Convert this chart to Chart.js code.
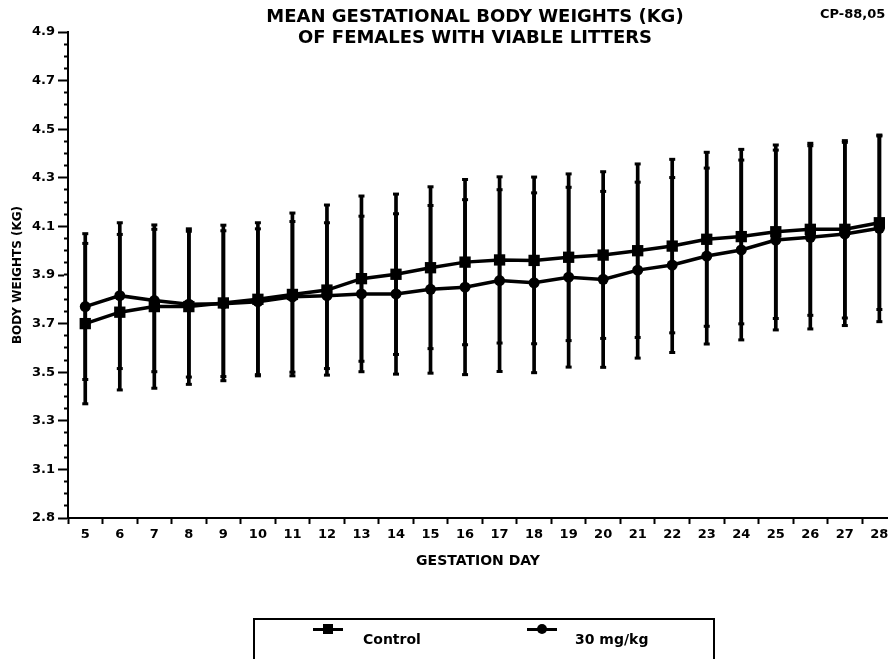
<!DOCTYPE html>
<html>
<head>
<meta charset="utf-8">
<script src="https://cdn.jsdelivr.net/npm/chart.js@4.4.1/dist/chart.umd.min.js"></script>
<style>
    body { margin: 0; background: #fff; }
    #wrap { position: relative; width: 888px; height: 659px; overflow: hidden; background: #fff;
            font-family: "DejaVu Sans", sans-serif; font-weight: bold; color: #000; }
    #chart { position: absolute; left: 0; top: 0; }
    .title { position: absolute; left: 0; width: 950px; top: 5px; text-align: center; font-size: 18px; line-height: 21px; }
    .code { position: absolute; left: 820px; top: 6px; font-size: 13px; white-space: nowrap; }
    .legend { position: absolute; left: 253px; top: 618px; width: 458px; height: 50px; border: 2px solid #000; }
    .item { position: absolute; top: 11px; font-size: 14px; white-space: nowrap; }
    .sym { position: absolute; top: 8px; width: 30px; height: 3px; background: #000; }
    .sym span { position: absolute; left: 10px; top: -4px; width: 10px; height: 10px; background: #000; }
    .sym span.dot { border-radius: 50%; }
</style>
</head>
<body>
<div id="wrap">
    <canvas id="chart" width="888" height="659"></canvas>
    <div class="title">MEAN GESTATIONAL BODY WEIGHTS (KG)<br>OF FEMALES WITH VIABLE LITTERS</div>
    <div class="code">CP-88,05</div>
    <div class="legend">
        <div class="sym" style="left:58px"><span></span></div>
        <div class="item" style="left:108px">Control</div>
        <div class="sym" style="left:272px"><span class="dot"></span></div>
        <div class="item" style="left:320px">30 mg/kg</div>
    </div>
</div>
<script>
const days = [5, 6, 7, 8, 9, 10, 11, 12, 13, 14, 15, 16, 17, 18, 19, 20, 21, 22, 23, 24, 25, 26, 27, 28];

const controlMean = [3.70, 3.747, 3.77, 3.77, 3.785, 3.80, 3.82, 3.838, 3.885, 3.903, 3.93, 3.953,
    3.962, 3.96, 3.973, 3.982, 4.00, 4.019, 4.047, 4.058, 4.078, 4.088, 4.088, 4.115];
const controlSD = [0.33, 0.32, 0.336, 0.32, 0.32, 0.315, 0.335, 0.35, 0.34, 0.33, 0.333, 0.34,
    0.342, 0.343, 0.343, 0.343, 0.357, 0.357, 0.358, 0.359, 0.357, 0.354, 0.365, 0.357];

const doseMean = [3.77, 3.815, 3.795, 3.78, 3.782, 3.79, 3.81, 3.815, 3.822, 3.822, 3.841, 3.85,
    3.877, 3.868, 3.891, 3.882, 3.92, 3.941, 3.978, 4.003, 4.044, 4.055, 4.069, 4.092];
const doseSD = [0.30, 0.30, 0.293, 0.30, 0.30, 0.30, 0.31, 0.30, 0.32, 0.33, 0.345, 0.36,
    0.374, 0.37, 0.37, 0.362, 0.362, 0.36, 0.362, 0.37, 0.37, 0.377, 0.377, 0.384];

const yTicks = [2.9, 3.1, 3.3, 3.5, 3.7, 3.9, 4.1, 4.3, 4.5, 4.7, 4.9];
const yTickLabels = ['2.8', '3.1', '3.3', '3.5', '3.7', '3.9', '4.1', '4.3', '4.5', '4.7', '4.9'];

Chart.defaults.font.family = '"DejaVu Sans", sans-serif';
Chart.defaults.font.weight = 'bold';
Chart.defaults.color = '#000';

const points = (mean) => days.map((d, i) => ({ x: d, y: mean[i] }));
const ranges = (mean, sd) => days.map((d, i) => ({ x: d, y: [mean[i] - sd[i], mean[i] + sd[i]] }));
const caps = (mean, sd) => days.flatMap((d, i) => [
    { x: d, y: mean[i] - sd[i] },
    { x: d, y: mean[i] + sd[i] }
]);

const barStyle = { type: 'bar', backgroundColor: '#000', barThickness: 3, grouped: false };
const capStyle = { type: 'line', showLine: false, pointStyle: 'line', pointRadius: 3,
    pointBorderWidth: 3, borderColor: '#000', pointBorderColor: '#000' };

const ctx = document.getElementById('chart').getContext('2d');
new Chart(ctx, {
    type: 'line',
    data: {
        datasets: [
            { label: 'Control', data: points(controlMean), borderColor: '#000', borderWidth: 3.5,
              pointStyle: 'rect', pointRadius: 8, pointBackgroundColor: '#000', pointBorderWidth: 0, order: 0 },
            { label: '30 mg/kg', data: points(doseMean), borderColor: '#000', borderWidth: 3.5,
              pointStyle: 'circle', pointRadius: 5.5, pointBackgroundColor: '#000', pointBorderWidth: 0, order: 1 },
            { ...capStyle, label: 'Control SD caps', data: caps(controlMean, controlSD), order: 2 },
            { ...capStyle, label: '30 mg/kg SD caps', data: caps(doseMean, doseSD), order: 2 },
            { ...barStyle, label: 'Control SD', data: ranges(controlMean, controlSD), order: 3 },
            { ...barStyle, label: '30 mg/kg SD', data: ranges(doseMean, doseSD), order: 4 }
        ]
    },
    options: {
        responsive: false,
        animation: false,
        events: [],
        layout: { autoPadding: false, padding: { left: 0, top: 32, right: 0, bottom: 81 } },
        plugins: { legend: { display: false }, tooltip: { enabled: false } },
        scales: {
            x: {
                type: 'linear',
                min: 4.5,
                max: 28.25,
                offset: false,
                afterBuildTicks: s => { s.ticks = days.map(v => ({ value: v })); },
                afterFit: s => { s.height = 60; s.paddingLeft = 0; s.paddingRight = 0; },
                ticks: { font: { size: 13 }, padding: 3, autoSkip: false, maxRotation: 0 },
                grid: { drawOnChartArea: false, tickLength: 6, tickWidth: 2, tickColor: '#000' },
                border: { color: '#000', width: 2 },
                title: { display: true, text: 'GESTATION DAY', font: { size: 14 }, padding: { top: 0, bottom: 8 } }
            },
            y: {
                type: 'linear',
                position: 'left',
                weight: 1,
                min: 2.9,
                max: 4.9,
                afterBuildTicks: s => { s.ticks = yTicks.map(v => ({ value: v })); },
                afterFit: s => { s.width = 64; },
                ticks: { font: { size: 13 }, padding: 3, callback: (v, i) => yTickLabels[i] },
                grid: { drawOnChartArea: false, tickLength: 6, tickWidth: 2, tickColor: '#000' },
                border: { display: false },
                title: { display: true, text: 'BODY WEIGHTS (KG)', font: { size: 12 }, padding: { top: 11, bottom: 0 } }
            },
            yMinor: {
                type: 'linear',
                position: 'left',
                weight: 0,
                min: 2.9,
                max: 4.9,
                afterFit: s => { s.width = 4; },
                ticks: { display: false, stepSize: 0.05 },
                grid: { drawOnChartArea: false, tickLength: 4, tickWidth: 2, tickColor: '#000' },
                border: { color: '#000', width: 2 }
            }
        }
    }
});
</script>
</body>
</html>
